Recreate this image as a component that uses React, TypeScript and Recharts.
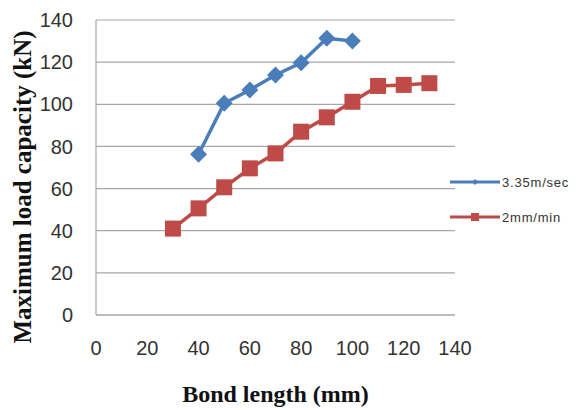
import React from "react";
import { LineChart, Line, XAxis, YAxis, CartesianGrid, Label } from "recharts";

const seriesNames = ["3.35m/sec", "2mm/min"];
const fastBondLength = [40, 50, 60, 70, 80, 90, 100];
const fastLoad = [76.3, 100.5, 106.8, 113.9, 119.7, 131.3, 130];
const slowBondLength = [30, 40, 50, 60, 70, 80, 90, 100, 110, 120, 130];
const slowLoad = [41, 50.6, 60.6, 69.6, 76.7, 87, 93.8, 101.2, 108.7, 109.2, 110];
const xTicks = [0, 20, 40, 60, 80, 100, 120, 140];
const yTicks = [0, 20, 40, 60, 80, 100, 120, 140];

const BLUE = "#4A7EBB";
const RED = "#BE4B48";
const GRID = "#A6A6A6";

const fastData = fastBondLength.map((x, i) => ({ x, y: fastLoad[i] }));
const slowData = slowBondLength.map((x, i) => ({ x, y: slowLoad[i] }));

const renderDiamond = (props: any) => {
  const { cx, cy, index } = props;
  if (cx == null || cy == null) return <g key={index} />;
  const h = 8.5;
  return <path key={index} d={`M${cx},${cy - h}L${cx + h},${cy}L${cx},${cy + h}L${cx - h},${cy}Z`} fill={BLUE} />;
};
const renderSquare = (props: any) => {
  const { cx, cy, index } = props;
  if (cx == null || cy == null) return <g key={index} />;
  const h = 8;
  return <rect key={index} x={cx - h} y={cy - h} width={2 * h} height={2 * h} fill={RED} />;
};

const tickFont = { fontSize: 20, fill: "#333", fontFamily: "'Liberation Sans', Arial, sans-serif" };
const labelFont = { fontSize: 24, fontWeight: 700, fill: "#111", fontFamily: "'Liberation Serif', 'Times New Roman', serif" };
const yLabelFont = { ...labelFont, fontSize: 25 };

export default function App() {
  return (
    <div style={{ position: "absolute", left: 0, top: 0, width: 579, height: 410, background: "#fff" }}>
      <LineChart width={579} height={410} margin={{ top: 20, right: 124, left: 0, bottom: 0 }}>
        <CartesianGrid vertical={false} stroke={GRID} strokeWidth={1.2} />
        <XAxis
          type="number"
          dataKey="x"
          domain={[0, 140]}
          ticks={xTicks}
          height={95}
          tickSize={0}
          tickMargin={26}
          axisLine={{ stroke: GRID, strokeWidth: 1.2 }}
          tickLine={false}
          tick={tickFont}
          interval={0}
        >
          <Label
            content={(p: any) => {
              const vb = p.viewBox;
              return (
                <text x={vb.x + vb.width / 2} y={vb.y + 87} textAnchor="middle" style={labelFont}>
                  Bond length (mm)
                </text>
              );
            }}
          />
        </XAxis>
        <YAxis
          type="number"
          dataKey="y"
          domain={[0, 140]}
          ticks={yTicks}
          width={96}
          tickSize={0}
          tickMargin={23}
          axisLine={{ stroke: GRID, strokeWidth: 1.2 }}
          tickLine={false}
          tick={tickFont}
          interval={0}
        >
          <Label
            content={() => {
              const y = 187;
              const x = 31;
              return (
                <text x={x} y={y} textAnchor="middle" transform={`rotate(-90, ${x}, ${y})`} style={yLabelFont}>
                  Maximum load capacity (kN)
                </text>
              );
            }}
          />
        </YAxis>
        <Line
          data={fastData}
          dataKey="y"
          name={seriesNames[0]}
          stroke={BLUE}
          strokeWidth={3.5}
          dot={renderDiamond}
          activeDot={false}
          isAnimationActive={false}
        />
        <Line
          data={slowData}
          dataKey="y"
          name={seriesNames[1]}
          stroke={RED}
          strokeWidth={3.5}
          dot={renderSquare}
          activeDot={false}
          isAnimationActive={false}
        />
      </LineChart>
      <div style={{ position: "absolute", left: 450, top: 172 }}>
        {seriesNames.map((name, i) => (
          <div key={name} style={{ display: "flex", alignItems: "center", height: 20, marginBottom: i === 0 ? 15 : 0 }}>
            <svg width={52} height={20}>
              <line x1={0} y1={10} x2={50} y2={10} stroke={i === 0 ? BLUE : RED} strokeWidth={3} />
              {i === 0 ? (
                <path d="M25,7L28,10L25,13L22,10Z" fill={BLUE} />
              ) : (
                <rect x={21} y={6} width={8} height={8} fill={RED} />
              )}
            </svg>
            <span style={{ fontFamily: "'Liberation Sans', Arial, sans-serif", fontSize: 13, color: "#333", letterSpacing: 0.8 }}>
              {name}
            </span>
          </div>
        ))}
      </div>
    </div>
  );
}
